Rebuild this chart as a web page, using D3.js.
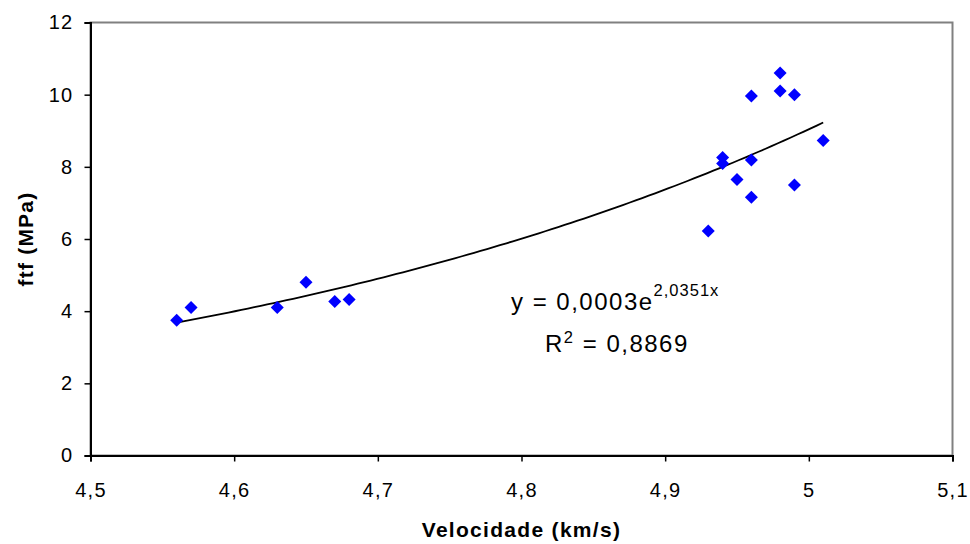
<!DOCTYPE html>
<html>
<head>
<meta charset="utf-8">
<style>
    body { margin: 0; background: #fff; }
    svg { font-family: "Liberation Sans", Arial, sans-serif; }
</style>
</head>
<body>
<svg width="970" height="544"></svg>
<script src="https://d3js.org/d3.v7.min.js"></script>
<script>
    // velocity (km/s) and ftf (MPa)
    let velocidade = [4.56, 4.57, 4.63, 4.65, 4.67, 4.68, 4.93, 4.94, 4.94, 4.95,
                      4.96, 4.96, 4.96, 4.98, 4.98, 4.99, 4.99, 5.01];
    let ftf = [3.75, 4.1, 4.1, 4.8, 4.27, 4.32, 6.22, 8.26, 8.09, 7.65,
               9.96, 8.19, 7.16, 10.6, 10.1, 10.0, 7.5, 8.73];
    let xTicks = [4.5, 4.6, 4.7, 4.8, 4.9, 5.0, 5.1];
    let yTicks = [0, 2, 4, 6, 8, 10, 12];

    let svg = d3.select("svg");
    let pLeft = 90.5, pRight = 952.5, pTop = 22.5, pBottom = 455.5;

    let x = d3.scaleLinear().domain([4.5, 5.1]).range([pLeft, pRight]);
    let y = d3.scaleLinear().domain([0, 12]).range([pBottom, pTop]);

    // plot area frame (grey)
    svg.append("rect")
        .attr("x", pLeft).attr("y", pTop)
        .attr("width", pRight - pLeft).attr("height", pBottom - pTop)
        .style("fill", "none").style("stroke", "#808080").style("stroke-width", 2);

    let fmt = d => String(d).replace(".", ",");

    let yAxis = svg.append("g")
        .attr("transform", `translate(${pLeft},0)`)
        .call(d3.axisLeft(y).tickValues(yTicks).tickSize(6).tickPadding(11).tickFormat(fmt));

    let xAxis = svg.append("g")
        .attr("transform", `translate(0,${pBottom})`)
        .call(d3.axisBottom(x).tickValues(xTicks).tickSize(6).tickPadding(21).tickFormat(fmt));

    [xAxis, yAxis].forEach(g => {
        g.select(".domain").style("stroke", "#000").style("stroke-width", 2);
        g.selectAll(".tick line").style("stroke", "#000").style("stroke-width", 1.5);
        g.selectAll("text").style("font-size", "20px").style("fill", "#000")
            .style("letter-spacing", "1.3px")
            .style("font-family", "'Liberation Sans', Arial, sans-serif");
    });

    // exponential trendline: least squares on ln(y)
    let lx = velocidade, ly = ftf.map(Math.log);
    let mx = d3.mean(lx), my = d3.mean(ly);
    let b = d3.sum(lx, (v, i) => (v - mx) * (ly[i] - my)) / d3.sum(lx, v => (v - mx) * (v - mx));
    let a = Math.exp(my - b * mx);
    let [x0, x1] = d3.extent(velocidade);
    let trend = d3.range(0, 101).map(i => {
        let xv = x0 + (x1 - x0) * i / 100;
        return [xv, a * Math.exp(b * xv)];
    });

    svg.append("path")
        .datum(trend)
        .attr("d", d3.line().x(d => x(d[0])).y(d => y(d[1])))
        .style("fill", "none").style("stroke", "#000").style("stroke-width", 1.8);

    // diamond markers
    let s = 6.5;
    svg.selectAll(".pt")
        .data(velocidade.map((v, i) => [v, ftf[i]]))
        .join("path")
        .attr("class", "pt")
        .attr("d", d => {
            let cx = x(d[0]), cy = y(d[1]);
            return `M${cx},${cy - s}L${cx + s},${cy}L${cx},${cy + s}L${cx - s},${cy}Z`;
        })
        .style("fill", "#0000ff");

    // equation
    let eq = svg.append("text")
        .attr("x", 511).attr("y", 310)
        .style("font-size", "24px").style("letter-spacing", "1.5px").style("fill", "#000");
    eq.append("tspan").text("y = 0,0003e");
    eq.append("tspan").attr("dy", -14).style("font-size", "16.5px").style("letter-spacing", "1px").text("2,0351x");

    let r2 = svg.append("text")
        .attr("x", 545).attr("y", 352)
        .style("font-size", "24px").style("letter-spacing", "1.5px").style("fill", "#000");
    r2.append("tspan").text("R");
    r2.append("tspan").attr("dy", -9).style("font-size", "16.5px").text("2");
    r2.append("tspan").attr("dy", 9).text(" = 0,8869");

    // axis titles
    svg.append("text")
        .attr("x", (pLeft + pRight) / 2).attr("y", 537)
        .attr("text-anchor", "middle")
        .style("font-size", "21px").style("font-weight", "bold").style("letter-spacing", "1.3px")
        .text("Velocidade (km/s)");

    svg.append("text")
        .attr("transform", `translate(33,${(pTop + pBottom) / 2}) rotate(-90)`)
        .attr("text-anchor", "middle")
        .style("font-size", "21px").style("font-weight", "bold").style("letter-spacing", "1.2px")
        .text("ftf (MPa)");
</script>
</body>
</html>
